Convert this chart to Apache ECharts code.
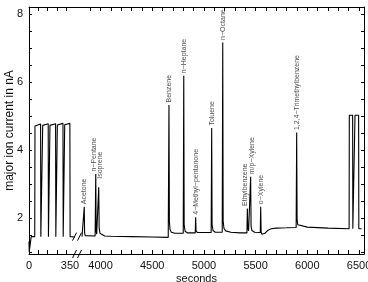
<!DOCTYPE html>
<html>
<head>
<meta charset="utf-8">
<script src="https://cdn.jsdelivr.net/npm/echarts@6/dist/echarts.min.js"></script>
<style>
html,body{margin:0;padding:0;background:#fff;}
#chart{width:368px;height:282px;}
</style>
</head>
<body>
<div id="chart"></div>
<script>
// calibration pulses at the start of the run: [seconds, nA]
var startRun = [
    [0,1.3],[2,1.0],[5,0.96],[17,1.0],[19,1.45],[49,1.45],[51,4.7],[53,4.74],[99,4.76],[101,1.45],
    [115,1.45],[117,4.72],[119,4.75],[164,4.77],[166,1.45],[177,1.45],[179,4.72],[181,4.75],[227,4.77],[229,1.45],
    [240,1.45],[242,4.73],[244,4.76],[290,4.78],[292,1.45],[303,1.45],[305,4.74],[307,4.77],[349,4.78],[351,1.45],
    [393,1.44]
];
// GC run: [seconds, nA]
var mainRun = [
    [3821,1.45],[3838,1.46],[3843,2.33],[3846,1.56],[3852,1.48],
    [3948,1.47],[3954,3.29],[3958,1.62],[3963,1.52],[3978,1.5],[3983,2.9],[3987,1.7],[3995,1.55],
    [4010,1.5],[4040,1.47],[4100,1.46],[4300,1.45],[4500,1.44],[4655,1.43],
    [4662,5.32],[4666,1.9],[4672,1.66],[4685,1.58],[4720,1.55],[4800,1.55],
    [4805,6.18],[4809,1.8],[4818,1.61],[4840,1.56],[4916,1.56],
    [4920,2.02],[4924,1.63],[4935,1.57],[5070,1.57],
    [5075,4.64],[5079,1.8],[5088,1.63],[5110,1.58],[5177,1.58],
    [5182,7.16],[5186,1.9],[5194,1.69],[5210,1.62],[5260,1.58],[5350,1.56],[5416,1.56],
    [5420,2.28],[5424,1.7],[5432,1.62],[5446,1.6],
    [5452,3.21],[5456,1.76],[5464,1.63],[5490,1.58],[5545,1.57],
    [5549,2.33],[5553,1.6],[5560,1.52],[5570,1.5],[5590,1.55],[5620,1.64],[5650,1.68],[5700,1.7],[5800,1.71],[5892,1.72],
    [5897,4.51],[5901,1.95],[5908,1.8],[5920,1.76],[6000,1.73],[6200,1.7],[6404,1.68],
    [6406,5.02],[6438,5.02],[6440,1.68],[6459,1.68],[6461,5.02],[6496,5.02],[6498,1.68],[6525,1.68]
];
var peakNames = ['Acetone','n\u2212Pentane','Isoprene','Benzene','n\u2212Heptane','4\u2212Methyl\u2212pentanone',
    'Toluene','n\u2212Octane','Ethylbenzene','m/p\u2212Xylene','o\u2212Xylene','1,2,4\u2212Trimethylbenzene'];
var peakTimes = [3843,3954,3983,4662,4805,4920,5075,5182,5420,5452,5549,5897];
var peakTops = [2.33,3.29,2.9,5.32,6.18,2.02,4.64,7.16,2.28,3.21,2.33,4.51];

var xLabels = [0,350,4000,4500,5000,5500,6000,6500];
var xTicks = [0,80,160,240,320,3900,4000,4100,4200,4300,4400,4500,4600,4700,4800,4900,5000,
    5100,5200,5300,5400,5500,5600,5700,5800,5900,6000,6100,6200,6300,6400,6500];
var yLabels = [2,4,6,8];
var yTicks = [1,1.5,2,2.5,3,3.5,4,4.5,5,5.5,6,6.5,7,7.5,8];

// broken time axis: 0-400 s and 3800-6550 s are drawn side by side
function pos(t){
    return t < 2000 ? t*0.1171 : 71.5 + (t-4000)*0.1034;
}
var labelText = {};
xLabels.forEach(function(t){ labelText[pos(t).toFixed(3)] = String(t); });

// nudge crowded peak names apart, in the rotated label frame: [up, right] pixels
var labelNudge = {'n\u2212Pentane':[0,-2], 'Isoprene':[6,1.5], 'Ethylbenzene':[0,-2], 'm/p\u2212Xylene':[0,1]};

var font = 'Liberation Sans, Arial, sans-serif';
var chart = echarts.init(document.getElementById('chart'));

var tickX = xTicks.map(pos);
var axisBase = {
    type:'value',
    min:0,
    max:pos(6548),
    axisLine:{show:true,onZero:false,lineStyle:{color:'#000',width:1}},
    axisTick:{show:true,inside:true,length:4,customValues:tickX,lineStyle:{color:'#000'}},
    splitLine:{show:false}
};
var yBase = {
    type:'value',
    min:0.94,
    max:8.2,
    axisLine:{show:true,onZero:false,lineStyle:{color:'#000',width:1}},
    axisTick:{show:true,inside:true,length:3,customValues:yTicks,lineStyle:{color:'#000'}},
    splitLine:{show:false}
};

chart.setOption({
    animation:false,
    grid:{left:29,right:4,top:7,bottom:28,containLabel:false,outerBoundsMode:'none'},
    xAxis:[
        Object.assign({}, axisBase, {
            position:'bottom',
            name:'seconds',
            nameLocation:'middle',
            nameGap:19,
            nameMoveOverlap:false,
            nameTextStyle:{fontFamily:font,fontSize:11,color:'#111',verticalAlign:'top'},
            axisLabel:{
                customValues:xLabels.map(pos),
                margin:6,
                fontFamily:font,
                fontSize:11,
                color:'#111',
                formatter:function(v){ return labelText[v.toFixed(3)] || ''; }
            }
        }),
        Object.assign({}, axisBase, {position:'top',axisLabel:{show:false}})
    ],
    yAxis:[
        Object.assign({}, yBase, {
            position:'left',
            name:'major ion current in nA',
            nameLocation:'middle',
            nameGap:13,
            nameMoveOverlap:false,
            nameTextStyle:{fontFamily:font,fontSize:12,color:'#111'},
            axisLabel:{customValues:yLabels,margin:6,fontFamily:font,fontSize:11,color:'#111'}
        }),
        Object.assign({}, yBase, {position:'right',axisLabel:{show:false}})
    ],
    series:[
        {
            type:'line',
            data:startRun.map(function(p){ return [pos(p[0]),p[1]]; }),
            symbol:'none',
            lineStyle:{color:'#000',width:1.1}
        },
        {
            type:'line',
            data:mainRun.map(function(p){ return [pos(p[0]),p[1]]; }),
            symbol:'none',
            lineStyle:{color:'#000',width:1.1}
        },
        {
            // compound names over the peaks
            type:'scatter',
            symbolSize:1,
            itemStyle:{color:'transparent'},
            data:peakTimes.map(function(t,i){
                var item = {value:[pos(t),peakTops[i],peakNames[i]]};
                if (labelNudge[peakNames[i]]) item.label = {offset:labelNudge[peakNames[i]]};
                return item;
            }),
            label:{
                show:true,
                position:'top',
                distance:2,
                rotate:90,
                align:'left',
                verticalAlign:'middle',
                fontFamily:font,
                fontSize:7,
                color:'#222',
                formatter:function(p){ return p.data.value[2]; }
            }
        }
    ]
});

// "//" marks for the axis break
var bx = chart.convertToPixel({xAxisIndex:0}, (pos(393)+pos(3821))/2) - 1;
var ay = chart.convertToPixel({yAxisIndex:0}, 0.94);
var ly = chart.convertToPixel({yAxisIndex:0}, 1.45);
function slashes(y){
    return [
        {type:'rect',shape:{x:bx-2,y:y-1,width:4,height:2},style:{fill:'#fff'}},
        {type:'line',shape:{x1:bx-5,y1:y+4,x2:bx-1,y2:y-4},style:{stroke:'#000',lineWidth:1}},
        {type:'line',shape:{x1:bx,y1:y+4,x2:bx+4,y2:y-4},style:{stroke:'#000',lineWidth:1}}
    ];
}
chart.setOption({graphic:slashes(ay).concat(slashes(ly))});
</script>
</body>
</html>
